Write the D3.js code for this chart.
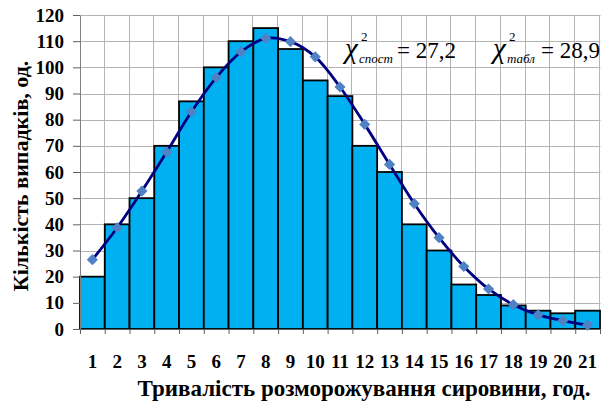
<!DOCTYPE html>
<html>
<head>
<meta charset="utf-8">
<script src="https://cdn.jsdelivr.net/npm/d3@7"></script>
<style>
  body { margin: 0; background: #fff; }
  svg { display: block; }
  text { font-family: "Liberation Serif", "Times New Roman", serif; fill: #000; }
</style>
</head>
<body>
<script>
// hours of defrosting (x categories)
var hours = d3.range(1, 22);
// observed counts (bars)
var observed = [20, 40, 50, 70, 87, 100, 110, 115, 107, 95, 89, 70, 60, 40, 30, 17, 13, 9, 7, 6, 7];
// theoretical counts (smooth line with markers)
var theoretical = [26.5, 38.7, 52.7, 67.6, 83.0, 96.1, 105.9, 111.1, 109.8, 104.0, 92.5, 78.2, 62.9, 47.9, 34.9, 23.9, 15.3, 9.3, 5.4, 3.2, 1.5];
var yTicks = d3.range(0, 121, 10);
var chiSubs = ["спост", "табл"];
var chiVals = ["27,2", "28,9"];
var xTitle = "Тривалість розморожування сировини, год.";
var yTitle = "Кількість випадків, од.";

var width = 601, height = 403;
var plotLeft = 80, plotRight = 600, plotTop = 15, plotBottom = 329;
var serif = "Liberation Serif";

var svg = d3.select("body").append("svg")
    .attr("width", width)
    .attr("height", height);

var x = d3.scaleBand().domain(hours).range([plotLeft, plotRight]).padding(0);
// boundaries between categories, for grid and tick marks
var xb = d3.scaleLinear().domain([0, hours.length]).range([plotLeft, plotRight]);
var y = d3.scaleLinear().domain([0, 120]).range([plotBottom, plotTop]);

// grid
var grid = svg.append("g").attr("stroke", "#b4b4b4").attr("stroke-width", 1);
grid.selectAll(".hg")
    .data(yTicks.slice(1))
    .enter().append("line")
    .attr("x1", plotLeft).attr("x2", plotRight + 0.5)
    .attr("y1", d => Math.round(y(d)) + 0.5)
    .attr("y2", d => Math.round(y(d)) + 0.5);
grid.selectAll(".vg")
    .data(d3.range(1, hours.length + 1))
    .enter().append("line")
    .attr("x1", d => Math.round(xb(d)) - 0.5)
    .attr("x2", d => Math.round(xb(d)) - 0.5)
    .attr("y1", plotTop).attr("y2", plotBottom);

// bars
svg.append("g").selectAll("rect")
    .data(observed)
    .enter().append("rect")
    .attr("x", (d, i) => x(hours[i]))
    .attr("y", d => y(d))
    .attr("width", x.bandwidth())
    .attr("height", d => y(0) - y(d))
    .attr("fill", "#00b0f0")
    .attr("stroke", "#000")
    .attr("stroke-width", 1.8);

// y axis
var yAxis = svg.append("g")
    .attr("transform", "translate(" + plotLeft + ",0)")
    .call(d3.axisLeft(y).tickValues(yTicks).tickSize(7).tickPadding(9).tickSizeOuter(0));
yAxis.select(".domain").attr("stroke", "#808080");
yAxis.selectAll(".tick line").attr("stroke", "#606060");
yAxis.selectAll("text")
    .attr("font-family", serif)
    .attr("font-weight", "bold")
    .attr("font-size", "19px")
    .attr("fill", "#000");

// x tick marks at category boundaries
var xTickAxis = svg.append("g")
    .attr("transform", "translate(0," + plotBottom + ")")
    .call(d3.axisBottom(xb).tickValues(d3.range(0, hours.length + 1)).tickSize(5).tickFormat("").tickSizeOuter(0));
xTickAxis.select(".domain").attr("stroke", "#606060");
xTickAxis.selectAll(".tick line").attr("stroke", "#606060");

// x labels at category centres
var xAxis = svg.append("g")
    .attr("transform", "translate(0," + plotBottom + ")")
    .call(d3.axisBottom(x).tickSize(0).tickPadding(26));
xAxis.select(".domain").remove();
xAxis.selectAll("text")
    .attr("font-family", serif)
    .attr("font-weight", "bold")
    .attr("font-size", "19px")
    .attr("fill", "#000");

// theoretical curve
var line = d3.line()
    .x((d, i) => x(hours[i]) + x.bandwidth() / 2)
    .y(d => y(d))
    .curve(d3.curveCatmullRom.alpha(0.5));
svg.append("path")
    .datum(theoretical)
    .attr("d", line)
    .attr("fill", "none")
    .attr("stroke", "#000080")
    .attr("stroke-width", 2.8);

svg.append("g").selectAll("path")
    .data(theoretical)
    .enter().append("path")
    .attr("d", d3.symbol(d3.symbolSquare, 62))
    .attr("transform", (d, i) => "translate(" + (x(hours[i]) + x.bandwidth() / 2) + "," + y(d) + ") rotate(45)")
    .attr("fill", "#4f81c4");

// chi-square annotations
var chiX = [345, 493];
var eqX = [52, 48];
chiSubs.forEach(function(s, i) {
    var g = svg.append("g").attr("transform", "translate(" + chiX[i] + ",58)")
        .attr("font-family", serif);
    g.append("text").attr("x", 0).attr("y", 0)
        .attr("font-style", "italic").attr("font-size", "29px").text("χ");
    g.append("text").attr("x", 16).attr("y", -17)
        .attr("font-size", "13px").text("2");
    g.append("text").attr("x", 14).attr("y", 5)
        .attr("font-style", "italic").attr("font-size", "13px").text(s);
    g.append("text").attr("x", eqX[i]).attr("y", 0)
        .attr("font-size", "23px").text("= " + chiVals[i]);
});

// axis titles
svg.append("text")
    .attr("x", 364).attr("y", 396)
    .attr("text-anchor", "middle")
    .attr("font-family", serif)
    .attr("font-weight", "bold")
    .attr("font-size", "23px")
    .text(xTitle);

svg.append("text")
    .attr("transform", "translate(28,176) rotate(-90)")
    .attr("text-anchor", "middle")
    .attr("font-family", serif)
    .attr("font-weight", "bold")
    .attr("font-size", "22px")
    .text(yTitle);
</script>
</body>
</html>
